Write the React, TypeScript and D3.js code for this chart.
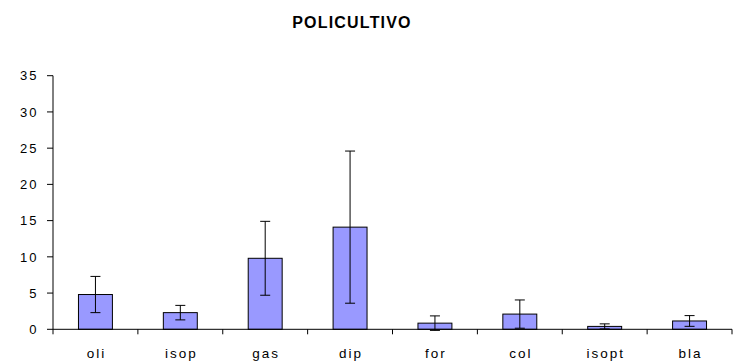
import React from "react";
import * as d3 from "d3";

const categories = ["oli", "isop", "gas", "dip", "for", "col", "isopt", "bla"];
const means = [4.8, 2.3, 9.8, 14.1, 0.85, 2.1, 0.4, 1.15];
const errors = [2.5, 1.0, 5.1, 10.5, 1.0, 1.95, 0.35, 0.74];
const yTicks = [0, 5, 10, 15, 20, 25, 30, 35];
const title = "POLICULTIVO";

const W = 737;
const H = 363;
const left = 53;
const right = 732;
const top = 75.7;
const bottom = 329.3;

export default function App() {
  const x = d3.scaleBand<string>().domain(categories).range([left, right]).paddingInner(0.6).paddingOuter(0.3);
  const y = d3.scaleLinear().domain([0, 35]).range([bottom, top]);
  const step = (right - left) / categories.length;
  const font = "Liberation Sans, Arial, sans-serif";
  return (
    <svg width={W} height={H} style={{ position: "absolute", left: 0, top: 0, background: "#fff" }}>
      <text x={352} y={28} textAnchor="middle" fontFamily={font} fontWeight="bold" fontSize={16} letterSpacing={1.2}>
        {title}
      </text>
      {/* y axis */}
      <line x1={left} x2={left} y1={y(35)} y2={y(0)} stroke="#000" strokeWidth={1} />
      {yTicks.map((t) => (
        <g key={t}>
          <line x1={left - 6} x2={left} y1={y(t)} y2={y(t)} stroke="#000" />
          <text x={38.5} y={y(t)} dy="0.36em" textAnchor="end" fontFamily={font} fontSize={13} letterSpacing={2}>
            {t}
          </text>
        </g>
      ))}
      {/* bars */}
      {categories.map((c, i) => {
        const bx = x(c)!;
        const bw = x.bandwidth();
        const cx = bx + bw / 2;
        const v = means[i];
        const e = errors[i];
        return (
          <g key={c}>
            <rect x={bx} y={y(v)} width={bw} height={y(0) - y(v)} fill="#9999FF" stroke="#000" strokeWidth={1} />
            <line x1={cx} x2={cx} y1={y(v + e)} y2={y(v - e)} stroke="#000" strokeWidth={1} />
            <line x1={cx - 5} x2={cx + 5} y1={y(v + e)} y2={y(v + e)} stroke="#000" strokeWidth={1} />
            <line x1={cx - 5} x2={cx + 5} y1={y(v - e)} y2={y(v - e)} stroke="#000" strokeWidth={1} />
            <text x={cx + 1} y={358} textAnchor="middle" fontFamily={font} fontSize={13.5} letterSpacing={2}>
              {c}
            </text>
          </g>
        );
      })}
      {/* x axis */}
      <line x1={left} x2={right} y1={y(0)} y2={y(0)} stroke="#000" />
      {d3.range(categories.length + 1).map((k) => (
        <line key={k} x1={left + k * step} x2={left + k * step} y1={y(0)} y2={y(0) + 5} stroke="#000" />
      ))}
    </svg>
  );
}
